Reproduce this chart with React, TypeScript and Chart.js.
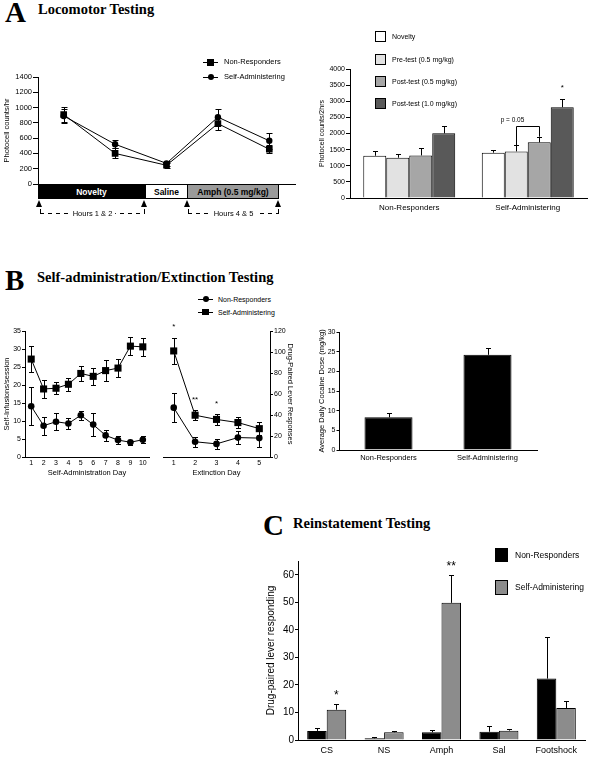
import React, { useEffect, useRef } from 'react';
import { Chart, registerables } from 'chart.js';

Chart.register(...registerables);

const SANS = '"Liberation Sans", Arial, Helvetica, sans-serif';
const SERIF = '"Liberation Serif", "Times New Roman", serif';
Chart.defaults.font.family = SANS;
Chart.defaults.color = '#000';

// ---------------- DATA ----------------
const groupNames = ['Non-Responders', 'Self-Administering'];

// Panel A – locomotor time course
const locoHours = ['Hour 1', 'Hour 2', 'Hour 3', 'Hour 4', 'Hour 5'];
const locoNonResp = [910, 400, 245, 790, 455];
const locoNonRespErr = [100, 65, 30, 80, 50];
const locoSelfAdm = [890, 520, 270, 875, 565];
const locoSelfAdmErr = [90, 50, 30, 100, 105];

// Panel A – sensitization bars
const sensSeries = ['Novelty', 'Pre-test (0.5 mg/kg)', 'Post-test (0.5 mg/kg)', 'Post-test (1.0 mg/kg)'];
const sensColors = ['#ffffff', '#e2e2e2', '#a6a6a6', '#595959'];
const sensNovelty = [1310, 1405];
const sensNoveltyErr = [150, 80];
const sensPre05 = [1250, 1445];
const sensPre05Err = [100, 190];
const sensPost05 = [1320, 1725];
const sensPost05Err = [215, 175];
const sensPost10 = [2005, 2815];
const sensPost10Err = [240, 260];
const sensBracketLevel = 2230;
const sensBracketLabel = 'p = 0.05';

// Panel B – self-administration
const saDays = ['1', '2', '3', '4', '5', '6', '7', '8', '9', '10'];
const saNonResp = [14.1, 8.7, 9.8, 9.3, 11.6, 9.0, 6.0, 4.7, 4.1, 4.8];
const saNonRespErr = [5.3, 2.5, 2.4, 1.6, 1.3, 3.3, 1.5, 1.1, 0.7, 1.0];
const saSelfAdm = [27.2, 18.9, 19.1, 20.2, 23.2, 22.4, 24.0, 24.7, 30.8, 30.6];
const saSelfAdmErr = [3.7, 2.5, 1.7, 1.8, 2.0, 2.3, 2.9, 2.6, 2.4, 2.5];

// Panel B – extinction
const extDays = ['1', '2', '3', '4', '5'];
const extNonResp = [47, 14.5, 12.5, 18.5, 18];
const extNonRespErr = [14, 5, 4.5, 6.5, 8.5];
const extSelfAdm = [101, 39.8, 35.8, 32.8, 27];
const extSelfAdmErr = [12.5, 4.5, 5, 5, 6];
const extStars = ['*', '**', '*'];

// Panel B – dose
const doseValues = [8.3, 24.2];
const doseErr = [1.0, 1.7];

// Panel C – reinstatement
const reinstCats = ['CS', 'NS', 'Amph', 'Sal', 'Footshock'];
const reinstNonResp = [3.3, 0.6, 2.8, 3.0, 22.3];
const reinstNonRespErr = [1.0, 0.6, 0.9, 2.1, 15.0];
const reinstSelfAdm = [11.0, 2.8, 49.8, 3.4, 11.6];
const reinstSelfAdmErr = [2.1, 0.6, 10.1, 0.7, 2.7];
const reinstColors = ['#000000', '#8c8c8c'];

// ---------------- PLUGINS ----------------
const errorBarPlugin = {
  id: 'errbars',
  afterDatasetsDraw(chart: any) {
    const ctx = chart.ctx;
    chart.data.datasets.forEach((ds: any, i: number) => {
      const errs = ds.errors;
      if (!errs) return;
      const meta = chart.getDatasetMeta(i);
      const ys = chart.scales[meta.yAxisID];
      const cap = ds.capWidth ?? 3;
      ctx.save();
      ctx.strokeStyle = '#000';
      ctx.lineWidth = 1;
      meta.data.forEach((el: any, j: number) => {
        const v = ds.data[j];
        const e = errs[j];
        if (v == null || e == null) return;
        const x = Math.round(el.x) + 0.5;
        const yTop = Math.round(ys.getPixelForValue(v + e)) + 0.5;
        const yBot = ds.errorUpOnly
          ? ys.getPixelForValue(v)
          : Math.round(ys.getPixelForValue(v - e)) + 0.5;
        ctx.beginPath();
        ctx.moveTo(x, yBot);
        ctx.lineTo(x, yTop);
        ctx.moveTo(x - cap, yTop);
        ctx.lineTo(x + cap, yTop);
        if (!ds.errorUpOnly) {
          ctx.moveTo(x - cap, yBot);
          ctx.lineTo(x + cap, yBot);
        }
        ctx.stroke();
      });
      ctx.restore();
    });
  },
};

type Star = { ds: number; idx: number; text: string };
function starPlugin(id: string, stars: Star[], size: number, gap: number) {
  return {
    id,
    afterDatasetsDraw(chart: any) {
      const ctx = chart.ctx;
      ctx.save();
      ctx.fillStyle = '#000';
      ctx.font = `${size}px ${SANS}`;
      ctx.textAlign = 'center';
      ctx.textBaseline = 'alphabetic';
      stars.forEach((s) => {
        const ds = chart.data.datasets[s.ds];
        const meta = chart.getDatasetMeta(s.ds);
        const el: any = meta.data[s.idx];
        const ys = chart.scales[meta.yAxisID];
        const top = ys.getPixelForValue(ds.data[s.idx] + (ds.errors ? ds.errors[s.idx] : 0));
        const cy = top - gap;
        ctx.fillText(s.text, el.x, cy + 0.57 * size);
      });
      ctx.restore();
    },
  };
}

const bracketPlugin = {
  id: 'bracket',
  afterDatasetsDraw(chart: any) {
    const ctx = chart.ctx;
    const ys = chart.scales.y;
    const d1 = chart.data.datasets[1];
    const d2 = chart.data.datasets[2];
    const a: any = chart.getDatasetMeta(1).data[1];
    const b: any = chart.getDatasetMeta(2).data[1];
    const xa = Math.round(a.x) + 0.5;
    const xb = Math.round(b.x) + 0.5;
    const ya = ys.getPixelForValue(d1.data[1] + d1.errors[1]);
    const yb = ys.getPixelForValue(d2.data[1] + d2.errors[1]);
    const yl = Math.round(ys.getPixelForValue(sensBracketLevel)) + 0.5;
    ctx.save();
    ctx.strokeStyle = '#000';
    ctx.lineWidth = 1;
    ctx.beginPath();
    ctx.moveTo(xa, ya);
    ctx.lineTo(xa, yl);
    ctx.lineTo(xb, yl);
    ctx.lineTo(xb, yb);
    ctx.stroke();
    ctx.fillStyle = '#000';
    ctx.font = `6.5px ${SANS}`;
    ctx.textAlign = 'center';
    ctx.textBaseline = 'middle';
    ctx.fillText(sensBracketLabel, xa - 4, yl - 6);
    ctx.restore();
  },
};

// ---------------- HELPERS ----------------
function baseOptions(padding: any, scales: any) {
  return {
    responsive: false,
    maintainAspectRatio: false,
    animation: false,
    events: [],
    layout: { padding: { top: 0, right: 0, bottom: 0, left: 0, ...padding } },
    plugins: { legend: { display: false }, tooltip: { enabled: false }, title: { display: false } },
    scales,
  };
}

function yAxis(o: any) {
  return {
    type: 'linear',
    position: o.position ?? 'left',
    min: o.min,
    max: o.max,
    ticks: {
      stepSize: o.step,
      font: { size: o.tickSize, family: SANS },
      color: '#000',
      padding: o.pad ?? 1,
      includeBounds: o.includeBounds ?? true,
      autoSkip: false,
      callback: (v: any) => String(v),
    },
    grid: { display: true, drawOnChartArea: false, drawTicks: true, tickLength: o.tickLen ?? 4, color: '#000', lineWidth: 1 },
    border: { display: true, color: '#000', width: 1 },
    title: o.title
      ? { display: true, text: o.title, color: '#000', font: { size: o.titleSize, family: SANS }, padding: { top: o.titlePad ?? 2, bottom: 0 } }
      : { display: false },
    afterFit: (s: any) => {
      s.width = o.width;
    },
  };
}

function xAxis(o: any) {
  return {
    type: 'category',
    offset: true,
    grid: { display: false, drawTicks: false, drawOnChartArea: false },
    border: { display: true, color: '#000', width: 1 },
    ticks: {
      display: o.showTicks,
      font: { size: o.tickSize ?? 8, family: SANS },
      color: '#000',
      padding: o.pad ?? 2,
      maxRotation: 0,
      minRotation: 0,
      autoSkip: false,
    },
    title: o.title
      ? { display: true, text: o.title, color: '#000', font: { size: o.titleSize, family: SANS }, padding: { top: 0, bottom: 0 } }
      : { display: false },
    afterFit: (s: any) => {
      s.height = o.height;
    },
  };
}

function lineDs(label: string, data: number[], errors: number[], style: string, radius: number, cap: number) {
  return {
    type: 'line',
    label,
    data,
    errors,
    capWidth: cap,
    borderColor: '#000',
    borderWidth: 1,
    backgroundColor: '#000',
    pointStyle: style,
    pointRadius: radius,
    pointBackgroundColor: '#000',
    pointBorderColor: '#000',
    pointBorderWidth: 0,
    tension: 0,
    fill: false,
  };
}

function barDs(label: string, data: number[], errors: number[], color: string, catPct: number, barPct: number, cap = 2.5) {
  return {
    type: 'bar',
    label,
    data,
    errors,
    errorUpOnly: true,
    capWidth: cap,
    backgroundColor: color,
    borderColor: '#000',
    borderWidth: 1,
    categoryPercentage: catPct,
    barPercentage: barPct,
  };
}

// ---------------- CHART CONFIGS ----------------
const makeLocoLine = () => ({
  type: 'line',
  data: {
    labels: locoHours,
    datasets: [
      lineDs(groupNames[0], locoNonResp, locoNonRespErr, 'rect', 4.7, 3),
      lineDs(groupNames[1], locoSelfAdm, locoSelfAdmErr, 'circle', 3.2, 3),
    ],
  },
  options: baseOptions({ top: 10, right: 5 }, {
    x: xAxis({ height: 8, showTicks: false }),
    y: yAxis({ min: 0, max: 1400, step: 200, width: 38, tickSize: 7.5, tickLen: 5, pad: 1, title: 'Photocell counts/hr', titleSize: 7.5, titlePad: 2.5 }),
  }),
  plugins: [errorBarPlugin],
});

const makeSensBars = () => ({
  type: 'bar',
  data: {
    labels: groupNames,
    datasets: [
      barDs(sensSeries[0], sensNovelty, sensNoveltyErr, sensColors[0], 0.776, 1),
      barDs(sensSeries[1], sensPre05, sensPre05Err, sensColors[1], 0.776, 1),
      barDs(sensSeries[2], sensPost05, sensPost05Err, sensColors[2], 0.776, 1),
      barDs(sensSeries[3], sensPost10, sensPost10Err, sensColors[3], 0.776, 1),
    ],
  },
  options: baseOptions({ top: 10, right: 3 }, {
    x: xAxis({ height: 16, showTicks: true, tickSize: 8, pad: 5 }),
    y: yAxis({ min: 0, max: 4000, step: 500, width: 35, tickSize: 7, tickLen: 4, pad: 1, title: 'Photocell counts/2hrs', titleSize: 7, titlePad: 2.5 }),
  }),
  plugins: [errorBarPlugin, starPlugin('starsA', [{ ds: 3, idx: 1, text: '*' }], 8, 13), bracketPlugin],
});

const makeSaLine = () => ({
  type: 'line',
  data: {
    labels: saDays,
    datasets: [
      lineDs(groupNames[0], saNonResp, saNonRespErr, 'circle', 3.3, 2.5),
      lineDs(groupNames[1], saSelfAdm, saSelfAdmErr, 'rect', 5, 2.5),
    ],
  },
  options: baseOptions({ top: 10, right: 4 }, {
    x: xAxis({ height: 20, showTicks: true, tickSize: 7, pad: 2, title: 'Self-Administration Day', titleSize: 7.5 }),
    y: yAxis({ min: 0, max: 35, step: 5, width: 25, tickSize: 7, tickLen: 3, pad: 1, title: 'Self-Infusions/session', titleSize: 7.5 }),
  }),
  plugins: [errorBarPlugin],
});

const makeExtLine = () => ({
  type: 'line',
  data: {
    labels: extDays,
    datasets: [
      lineDs(groupNames[0], extNonResp, extNonRespErr, 'circle', 3.3, 2.5),
      lineDs(groupNames[1], extSelfAdm, extSelfAdmErr, 'rect', 5, 2.5),
    ],
  },
  options: baseOptions({ top: 16, left: 4 }, {
    x: xAxis({ height: 20, showTicks: true, tickSize: 7, pad: 2, title: 'Extinction Day', titleSize: 7.5 }),
    y: yAxis({ position: 'right', min: 0, max: 120, step: 20, width: 27, tickSize: 7, tickLen: 3, pad: 1, title: 'Drug-Paired Lever Responses', titleSize: 7.5 }),
  }),
  plugins: [errorBarPlugin, starPlugin('starsB', extStars.map((t, i) => ({ ds: 1, idx: i, text: t })), 8, 13)],
});

const makeDoseBars = () => ({
  type: 'bar',
  data: {
    labels: groupNames,
    datasets: [barDs('Average daily dose', doseValues, doseErr, '#000000', 1, 0.485)],
  },
  options: baseOptions({ top: 10, right: 4 }, {
    x: xAxis({ height: 14, showTicks: true, tickSize: 7.5, pad: 3 }),
    y: yAxis({ min: 0, max: 30, step: 5, width: 24, tickSize: 7, tickLen: 2.5, pad: 1, title: 'Average Daily Cocaine Dose (mg/kg)', titleSize: 7.5 }),
  }),
  plugins: [errorBarPlugin],
});

const makeReinstBars = () => ({
  type: 'bar',
  data: {
    labels: reinstCats,
    datasets: [
      barDs(groupNames[0], reinstNonResp, reinstNonRespErr, reinstColors[0], 0.68, 1),
      barDs(groupNames[1], reinstSelfAdm, reinstSelfAdmErr, reinstColors[1], 0.68, 1),
    ],
  },
  options: baseOptions({ top: 10, right: 3 }, {
    x: xAxis({ height: 18, showTicks: true, tickSize: 9, pad: 5 }),
    y: yAxis({ min: 0, max: 65, step: 10, width: 35, tickSize: 10, tickLen: 3, pad: 1, title: 'Drug-paired lever responding', titleSize: 10, includeBounds: false }),
  }),
  plugins: [
    errorBarPlugin,
    starPlugin('starsC', [{ ds: 1, idx: 0, text: '*' }, { ds: 1, idx: 2, text: '**' }], 12, 12),
  ],
});

// ---------------- COMPONENTS ----------------
function ChartCanvas({ left, top, width, height, make }: any) {
  const ref = useRef<HTMLCanvasElement | null>(null);
  useEffect(() => {
    if (!ref.current) return;
    const chart = new Chart(ref.current, make() as any);
    return () => chart.destroy();
  }, [make]);
  return (
    <canvas
      ref={ref}
      width={width}
      height={height}
      style={{ position: 'absolute', left, top, width, height, display: 'block' }}
    />
  );
}

function Txt({ x, y, size, children, bold, align = 'left', family = SANS, bg }: any) {
  const style: any = {
    position: 'absolute',
    top: y - size / 2,
    fontSize: size,
    lineHeight: `${size}px`,
    fontFamily: family,
    fontWeight: bold ? 'bold' : 'normal',
    color: '#000',
    whiteSpace: 'nowrap',
    left: x,
  };
  if (align === 'center') style.transform = 'translateX(-50%)';
  if (bg) {
    style.background = bg;
    style.padding = '0 3px';
  }
  return <div style={style}>{children}</div>;
}

function Heading({ left, top, size, children }: any) {
  return (
    <div
      style={{
        position: 'absolute',
        left,
        top,
        fontFamily: SERIF,
        fontWeight: 'bold',
        fontSize: size,
        lineHeight: `${size}px`,
        whiteSpace: 'nowrap',
        color: '#000',
      }}
    >
      {children}
    </div>
  );
}

function LegendLine({ x1, x2, y, shape, size }: any) {
  const cx = (x1 + x2) / 2;
  return (
    <>
      <div style={{ position: 'absolute', left: x1, top: y - 0.5, width: x2 - x1, height: 1, background: '#000' }} />
      <div
        style={{
          position: 'absolute',
          left: cx - size / 2,
          top: y - size / 2,
          width: size,
          height: size,
          background: '#000',
          borderRadius: shape === 'circle' ? '50%' : 0,
        }}
      />
    </>
  );
}

function Box({ left, top, width, height, bg, border = true }: any) {
  return (
    <div
      style={{
        position: 'absolute',
        left,
        top,
        width,
        height,
        background: bg,
        border: border ? '1px solid #000' : 'none',
        boxSizing: 'border-box',
      }}
    />
  );
}

function Band({ left, width, bg, color, label }: any) {
  return (
    <div
      style={{
        position: 'absolute',
        left,
        top: 184,
        width,
        height: 15,
        background: bg,
        color,
        border: '1px solid #000',
        boxSizing: 'border-box',
        display: 'flex',
        alignItems: 'center',
        justifyContent: 'center',
        fontFamily: SANS,
        fontWeight: 'bold',
        fontSize: 8.5,
        whiteSpace: 'nowrap',
      }}
    >
      {label}
    </div>
  );
}

function Tri({ x, y }: any) {
  return (
    <div
      style={{
        position: 'absolute',
        left: x - 3.5,
        top: y,
        width: 0,
        height: 0,
        borderLeft: '3.5px solid transparent',
        borderRight: '3.5px solid transparent',
        borderBottom: '7px solid #000',
      }}
    />
  );
}

function HoursSpan({ x1, x2, label }: any) {
  return (
    <>
      <div style={{ position: 'absolute', left: x1, top: 209, width: 1, height: 5, background: '#000' }} />
      <div style={{ position: 'absolute', left: x2 - 1, top: 209, width: 1, height: 5, background: '#000' }} />
      <div
        style={{
          position: 'absolute',
          left: x1,
          top: 213,
          width: x2 - x1,
          height: 1,
          background: 'repeating-linear-gradient(to right, #000 0 4px, transparent 4px 8px)',
        }}
      />
      <Txt x={(x1 + x2) / 2} y={214} size={7.5} align="center" bg="#fff">
        {label}
      </Txt>
    </>
  );
}

export default function App() {
  return (
    <div
      style={{
        position: 'absolute',
        left: 0,
        top: 0,
        width: 590,
        height: 758,
        background: '#fff',
        overflow: 'hidden',
        fontFamily: SANS,
      }}
    >
      {/* Panel A */}
      <Heading left={5} top={-2} size={29}>A</Heading>
      <Heading left={38} top={2.4} size={14.5}>Locomotor Testing</Heading>
      <ChartCanvas left={0} top={67} width={300} height={125} make={makeLocoLine} />
      <LegendLine x1={203} x2={218} y={62} shape="square" size={7} />
      <Txt x={224} y={62} size={7.5}>{groupNames[0]}</Txt>
      <LegendLine x1={203} x2={218} y={77} shape="circle" size={6} />
      <Txt x={224} y={77} size={7.5}>{groupNames[1]}</Txt>
      <Band left={38} width={107} bg="#000" color="#fff" label="Novelty" />
      <Band left={145} width={43} bg="#fff" color="#000" label="Saline" />
      <Band left={187} width={92} bg="#9a9a9a" color="#000" label="Amph (0.5 mg/kg)" />
      <Tri x={39.5} y={200} />
      <Tri x={144.5} y={200} />
      <Tri x={187.5} y={200} />
      <Tri x={278.5} y={200} />
      <HoursSpan x1={40} x2={145} label="Hours 1 & 2" />
      <HoursSpan x1={188} x2={279} label="Hours 4 & 5" />

      <ChartCanvas left={315} top={59} width={275} height={155} make={makeSensBars} />
      {sensSeries.map((s, i) => (
        <React.Fragment key={s}>
          <Box left={375} top={[31, 54, 76, 98][i]} width={11} height={11} bg={sensColors[i]} />
          <Txt x={392} y={[36.5, 59, 81.5, 103.5][i]} size={7}>{s}</Txt>
        </React.Fragment>
      ))}

      {/* Panel B */}
      <Heading left={5} top={266} size={29}>B</Heading>
      <Heading left={37} top={270.4} size={14.5}>Self-administration/Extinction Testing</Heading>
      <LegendLine x1={198} x2={213} y={299} shape="circle" size={6} />
      <Txt x={218} y={299} size={7}>{groupNames[0]}</Txt>
      <LegendLine x1={198} x2={213} y={312} shape="square" size={6.5} />
      <Txt x={218} y={312} size={7}>{groupNames[1]}</Txt>
      <ChartCanvas left={0} top={321} width={154} height={156} make={makeSaLine} />
      <ChartCanvas left={158} top={315} width={139} height={162} make={makeExtLine} />
      <ChartCanvas left={315} top={322} width={226} height={142} make={makeDoseBars} />

      {/* Panel C */}
      <Heading left={263} top={511} size={29}>C</Heading>
      <Heading left={293} top={515.7} size={14.5}>Reinstatement Testing</Heading>
      <ChartCanvas left={263} top={551} width={325} height={207} make={makeReinstBars} />
      <Box left={495} top={548} width={13} height={14} bg={reinstColors[0]} />
      <Txt x={515} y={555} size={8.5}>{groupNames[0]}</Txt>
      <Box left={495} top={580} width={13} height={15} bg={reinstColors[1]} />
      <Txt x={515} y={587} size={8.5}>{groupNames[1]}</Txt>
    </div>
  );
}
